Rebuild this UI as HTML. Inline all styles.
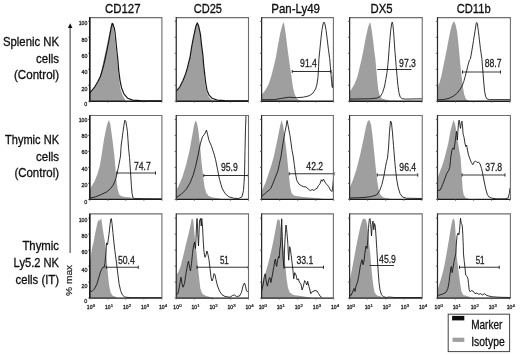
<!DOCTYPE html>
<html><head><meta charset="utf-8"><title>NK cell histograms</title>
<style>
html,body{margin:0;padding:0;background:#fff;}
body{width:520px;height:355px;overflow:hidden;}
svg{display:block;font-family:"Liberation Sans",sans-serif;}
</style></head><body>
<svg width="520" height="355" viewBox="0 0 520 355">
<rect width="520" height="355" fill="#fff"/>
<defs><filter id="bl" x="0" y="0" width="520" height="355" filterUnits="userSpaceOnUse"><feGaussianBlur stdDeviation="0.38"/></filter></defs>
<g filter="url(#bl)">
<g>
<clipPath id="c00"><rect x="89.75" y="17.6" width="72.15" height="83.65"/></clipPath>
<polygon clip-path="url(#c00)" fill="#9f9f9f" points="89.75,101.25 89.75,93.5 94,88.3 97.5,82.3 99.8,76.8 101.4,70.4 102.8,64 104.1,58 105.8,50 107.5,42 109.2,34 110.6,27.5 111.8,23.2 112.8,23.5 113.5,27 114.2,33 115.2,42 116.2,52 117.1,58 118,70 119.2,80 120.5,89 122.5,95 125.2,100 127,101.2 128.5,101.25"/>
<polyline clip-path="url(#c00)" fill="none" stroke="#161616" stroke-width="1.2" stroke-linejoin="round" stroke-linecap="round" points="89.75,92.9 94.2,87.7 97.9,81.5 100.4,76.6 102.25,70.4 103.9,64.2 105.3,58 107,50 108.6,42 110,34 111.2,27.5 112.2,23.4 113,24 113.6,26.5 114.2,27.5 115,32 116,42 117,52 117.7,58 118.7,70.4 120,80.3 121.5,87.7 123.9,93.9 127.7,98.3 132.6,100.1 140,100.7 161.9,100.9"/>
<path d="M89.75 17.6H161.9V101.25" fill="none" stroke="#6e6e6e" stroke-width="1.1"/>
<path d="M89.75 17.1V101.25" fill="none" stroke="#2a2a2a" stroke-width="1.25"/>
<path d="M89.75 101.25H161.9" stroke="#1c1c1c" stroke-width="1.4"/>
<path d="M88.15 101.25H89.75M88.15 85.25H89.75M88.15 69.25H89.75M88.15 53.25H89.75M88.15 37.25H89.75M88.15 21.25H89.75" stroke="#444" stroke-width="0.8"/>
<path d="M89.75 101.25V102.65M107.8 101.25V102.65M125.85 101.25V102.65M143.9 101.25V102.65M161.95 101.25V102.65" stroke="#555" stroke-width="0.8"/>
<path d="M89.75 17.6V101.25" stroke="#111" stroke-width="1.3"/>
<text x="87.35" y="106.2" font-size="6.1" stroke="#222" stroke-width="0.28" text-anchor="end" textLength="3.0" lengthAdjust="spacingAndGlyphs" fill="#1a1a1a">0</text>
<text x="87.35" y="90.6" font-size="6.1" stroke="#222" stroke-width="0.28" text-anchor="end" textLength="5.9" lengthAdjust="spacingAndGlyphs" fill="#1a1a1a">20</text>
<text x="87.35" y="73.95" font-size="6.1" stroke="#222" stroke-width="0.28" text-anchor="end" textLength="5.9" lengthAdjust="spacingAndGlyphs" fill="#1a1a1a">40</text>
<text x="87.35" y="58" font-size="6.1" stroke="#222" stroke-width="0.28" text-anchor="end" textLength="5.9" lengthAdjust="spacingAndGlyphs" fill="#1a1a1a">60</text>
<text x="87.35" y="41.8" font-size="6.1" stroke="#222" stroke-width="0.28" text-anchor="end" textLength="5.9" lengthAdjust="spacingAndGlyphs" fill="#1a1a1a">80</text>
<text x="87.35" y="24.9" font-size="6.1" stroke="#222" stroke-width="0.28" text-anchor="end" textLength="8.6" lengthAdjust="spacingAndGlyphs" fill="#1a1a1a">100</text>
</g>
<g>
<clipPath id="c01"><rect x="176.25" y="17.6" width="72.25" height="83.65"/></clipPath>
<polygon clip-path="url(#c01)" fill="#9f9f9f" points="176.25,101.25 176.25,91.8 180,87 183.1,81 185.6,74.6 187.5,68.2 189,62 190,58 191.8,46.5 193.7,36.6 196.1,25.6 197.3,23.2 198.4,25.6 200.2,34.1 201.4,45.3 202.6,55.2 203.4,65 204.2,74 205,83 206.2,90.5 208.2,96 211,99.3 215,100.8 218,101.2 219.5,101.25"/>
<polyline clip-path="url(#c01)" fill="none" stroke="#161616" stroke-width="1.2" stroke-linejoin="round" stroke-linecap="round" points="176.25,91.3 180,86.5 183.1,80.3 185.5,74.1 187.4,67.9 188.9,61.7 189.9,58 191.7,46.5 193.6,36.6 196.1,25.4 197.3,23 198.5,25.4 200.4,34.1 201.6,45.3 202.9,55.2 203.7,65.4 204.7,74.1 205.7,82.8 207,90.2 209.1,95.2 212.2,98.3 217.1,100.1 224.6,100.7 248.5,100.9"/>
<path d="M176.25 17.6H248.5V101.25" fill="none" stroke="#6e6e6e" stroke-width="1.1"/>
<path d="M176.25 17.1V101.25" fill="none" stroke="#2a2a2a" stroke-width="1.25"/>
<path d="M176.25 101.25H248.5" stroke="#1c1c1c" stroke-width="1.4"/>
<path d="M174.65 101.25H176.25M174.65 85.25H176.25M174.65 69.25H176.25M174.65 53.25H176.25M174.65 37.25H176.25M174.65 21.25H176.25" stroke="#444" stroke-width="0.8"/>
<path d="M176.25 101.25V102.65M194.3 101.25V102.65M212.35 101.25V102.65M230.4 101.25V102.65M248.45 101.25V102.65" stroke="#555" stroke-width="0.8"/>
</g>
<g>
<clipPath id="c02"><rect x="261.6" y="17.6" width="71.8" height="83.65"/></clipPath>
<polygon clip-path="url(#c02)" fill="#9f9f9f" points="261.6,101.25 261.6,94.5 262.2,94.1 265.1,90.5 268.7,84 271.5,75.3 273.7,66.7 275.6,58.7 278,44.9 280.2,33.3 282.4,24.7 283.5,22.1 284.5,26.1 286,36.2 287.4,47.7 288.9,58.7 290,66.7 291.5,76.8 292.9,86.9 294.6,94.1 296.8,98.4 299,100.1 303,101.4 304.5,101.25"/>
<polyline clip-path="url(#c02)" fill="none" stroke="#161616" stroke-width="0.88" stroke-linejoin="round" stroke-linecap="round" points="261.6,99.8 274.4,99.6 281.6,98.4 288.9,97.2 296.1,97.7 303.3,97.2 309.1,95.8 312.7,93.4 315.6,89 317,84 318,76.8 318.6,66.7 318.9,59 319.9,49.2 320.9,39.1 322,29.7 323.1,23.9 323.9,22.1 324.9,23.9 326.1,30.4 327.2,39.1 328.4,49.2 329.7,58.7 330.4,66.7 331.1,75.3 331.7,82.5 332.1,86.9 332.5,87.6 333,79.6 333.3,72.4"/>
<path d="M292.25 71.5H331M292.25 69.9V73.1M331 69.9V73.1" stroke="#111" stroke-width="0.85" fill="none"/>
<text x="308.5" y="66.5" font-size="10.3" stroke="#1c1c1c" stroke-width="0.26" text-anchor="middle" textLength="16.9" lengthAdjust="spacingAndGlyphs" fill="#1c1c1c">91.4</text>
<path d="M261.6 17.6H333.4V101.25" fill="none" stroke="#6e6e6e" stroke-width="1.1"/>
<path d="M261.6 17.1V101.25" fill="none" stroke="#2a2a2a" stroke-width="1.25"/>
<path d="M261.6 101.25H333.4" stroke="#1c1c1c" stroke-width="1.4"/>
<path d="M260 101.25H261.6M260 85.25H261.6M260 69.25H261.6M260 53.25H261.6M260 37.25H261.6M260 21.25H261.6" stroke="#444" stroke-width="0.8"/>
<path d="M261.6 101.25V102.65M279.65 101.25V102.65M297.7 101.25V102.65M315.75 101.25V102.65M333.8 101.25V102.65" stroke="#555" stroke-width="0.8"/>
</g>
<g>
<clipPath id="c03"><rect x="349.6" y="17.6" width="72.65" height="83.65"/></clipPath>
<polygon clip-path="url(#c03)" fill="#9f9f9f" points="349.6,101.25 349.6,92 351.6,89 354.5,84 357.4,76.8 359.5,68.1 361.7,58.7 363.9,47.7 366,36.2 368.2,26.8 369.6,22.9 370.1,22.3 370.8,24.7 372,31.9 373.3,42 374.4,52.1 375.4,59.3 376.3,69.5 377.3,81.1 378.3,89.8 379.7,95.5 381.9,98.4 385.5,99.6 392,101.4 393.5,101.25"/>
<polyline clip-path="url(#c03)" fill="none" stroke="#161616" stroke-width="0.88" stroke-linejoin="round" stroke-linecap="round" points="349.6,99.1 369.6,98.8 376.9,98.1 380.5,96.2 382.6,92.6 384.4,86.9 385.8,79.6 387,72.4 387.8,65.2 388.4,59 389.1,49.2 389.8,40.5 390.7,30.4 391.6,23.9 392.2,22.1 392.9,24.7 393.6,31.9 394.3,42 395,52.1 395.6,59 396.2,66.7 397.1,76.8 397.9,85.4 398.9,92.6 400.2,97 402.1,98.7 405.7,99.1 422.25,98.8"/>
<path d="M377.25 69.5H411.5" stroke="#111" stroke-width="0.85" fill="none"/>
<text x="407.5" y="66.75" font-size="10.3" stroke="#1c1c1c" stroke-width="0.26" text-anchor="middle" textLength="16.9" lengthAdjust="spacingAndGlyphs" fill="#1c1c1c">97.3</text>
<path d="M349.6 17.6H422.25V101.25" fill="none" stroke="#6e6e6e" stroke-width="1.1"/>
<path d="M349.6 17.1V101.25" fill="none" stroke="#2a2a2a" stroke-width="1.25"/>
<path d="M349.6 101.25H422.25" stroke="#1c1c1c" stroke-width="1.4"/>
<path d="M348 101.25H349.6M348 85.25H349.6M348 69.25H349.6M348 53.25H349.6M348 37.25H349.6M348 21.25H349.6" stroke="#444" stroke-width="0.8"/>
<path d="M349.6 101.25V102.65M367.65 101.25V102.65M385.7 101.25V102.65M403.75 101.25V102.65M421.8 101.25V102.65" stroke="#555" stroke-width="0.8"/>
</g>
<g>
<clipPath id="c04"><rect x="437.5" y="17.6" width="72.9" height="83.65"/></clipPath>
<polygon clip-path="url(#c04)" fill="#9f9f9f" points="437.5,101.25 437.5,87.2 439.6,82.5 441.5,75.3 443.2,66.7 444.9,58.7 446.8,49.2 448.7,39.1 450.4,30.4 452.2,23.9 453.6,21.5 454.8,22.5 455.9,26.1 457.1,31.9 457.9,39.1 458.8,47.7 459.8,58.7 460.8,69.5 462,79.6 463.1,88.3 464.1,94.1 465.6,98.4 467,99.8 470,101.4 471.5,101.25"/>
<polyline clip-path="url(#c04)" fill="none" stroke="#161616" stroke-width="0.88" stroke-linejoin="round" stroke-linecap="round" points="437.5,99.8 443.2,99.6 449,98.4 453.3,96.2 456.9,93.4 459.8,89.7 462,86.1 463.7,81.8 465.1,76.8 466.6,71 468,65.2 469.5,59.8 470.4,59 472,49.9 473.5,40.5 475,31.2 476.1,23.9 476.7,22.5 477.4,23.9 478.3,30.4 479.3,39.1 480.4,48.5 481.9,58.7 482.5,66.7 483.2,75.3 483.9,84 484.6,91.2 485.5,96.2 486.8,98.8 489.4,99.6 510.4,99.6"/>
<path d="M462.5 72H500.5M462.5 70.4V73.6M500.5 70.4V73.6" stroke="#111" stroke-width="0.85" fill="none"/>
<text x="493.12" y="66.75" font-size="10.3" stroke="#1c1c1c" stroke-width="0.26" text-anchor="middle" textLength="16.9" lengthAdjust="spacingAndGlyphs" fill="#1c1c1c">88.7</text>
<path d="M437.5 17.6H510.4V101.25" fill="none" stroke="#6e6e6e" stroke-width="1.1"/>
<path d="M437.5 17.1V101.25" fill="none" stroke="#2a2a2a" stroke-width="1.25"/>
<path d="M437.5 101.25H510.4" stroke="#1c1c1c" stroke-width="1.4"/>
<path d="M435.9 101.25H437.5M435.9 85.25H437.5M435.9 69.25H437.5M435.9 53.25H437.5M435.9 37.25H437.5M435.9 21.25H437.5" stroke="#444" stroke-width="0.8"/>
<path d="M437.5 101.25V102.65M455.55 101.25V102.65M473.6 101.25V102.65M491.65 101.25V102.65M509.7 101.25V102.65" stroke="#555" stroke-width="0.8"/>
</g>
<g>
<clipPath id="c10"><rect x="89.75" y="115.5" width="72.15" height="83.9"/></clipPath>
<polygon clip-path="url(#c10)" fill="#9f9f9f" points="89.75,199.4 89.75,190 91.1,187 94.2,182 97.3,174.6 99.8,165.9 101.3,157 104.1,138.8 106.6,126.4 108.4,120.8 109.1,120.2 110.3,123.9 111.5,132.6 112.8,142.5 114.3,154.9 115.5,168.4 116.5,180.8 117.7,189.5 119.2,194.4 121.5,196.3 125.2,196.9 135,198 145,199 146.5,199.4"/>
<polyline clip-path="url(#c10)" fill="none" stroke="#161616" stroke-width="0.88" stroke-linejoin="round" stroke-linecap="round" points="89.75,198.1 95.4,196.9 101.6,194.4 106.6,191.9 110.3,188.8 112.8,185.7 114.6,182 115.9,178.3 117.1,173.3 118.4,167.2 119.6,161 120.5,156 121.2,145 122.1,138.8 122.9,132.6 123.9,125.2 124.9,120.2 125.8,121.4 126.7,126.4 127.4,131.3 127.9,138.8 128.6,148.7 129.5,157.4 130.1,165.9 130.75,175.8 131.4,185.7 132,193.2 132.9,197.5 134.5,198.6 161.9,198.8"/>
<path d="M116.75 173H155.5M116.75 171.4V174.6M155.5 171.4V174.6" stroke="#111" stroke-width="0.85" fill="none"/>
<text x="142.38" y="170.25" font-size="10.3" stroke="#1c1c1c" stroke-width="0.26" text-anchor="middle" textLength="16.9" lengthAdjust="spacingAndGlyphs" fill="#1c1c1c">74.7</text>
<path d="M89.75 115.5H161.9V199.4" fill="none" stroke="#6e6e6e" stroke-width="1.1"/>
<path d="M89.75 115V199.4" fill="none" stroke="#2a2a2a" stroke-width="1.25"/>
<path d="M89.75 199.4H161.9" stroke="#1c1c1c" stroke-width="1.4"/>
<path d="M88.15 199.4H89.75M88.15 183.4H89.75M88.15 167.4H89.75M88.15 151.4H89.75M88.15 135.4H89.75M88.15 119.4H89.75" stroke="#444" stroke-width="0.8"/>
<path d="M89.75 199.4V200.8M107.8 199.4V200.8M125.85 199.4V200.8M143.9 199.4V200.8M161.95 199.4V200.8" stroke="#555" stroke-width="0.8"/>
<path d="M89.75 115.5V199.4" stroke="#111" stroke-width="1.3"/>
<text x="87.35" y="203.6" font-size="6.1" stroke="#222" stroke-width="0.28" text-anchor="end" textLength="3.0" lengthAdjust="spacingAndGlyphs" fill="#1a1a1a">0</text>
<text x="87.35" y="186.8" font-size="6.1" stroke="#222" stroke-width="0.28" text-anchor="end" textLength="5.9" lengthAdjust="spacingAndGlyphs" fill="#1a1a1a">20</text>
<text x="87.35" y="170.8" font-size="6.1" stroke="#222" stroke-width="0.28" text-anchor="end" textLength="5.9" lengthAdjust="spacingAndGlyphs" fill="#1a1a1a">40</text>
<text x="87.35" y="154.4" font-size="6.1" stroke="#222" stroke-width="0.28" text-anchor="end" textLength="5.9" lengthAdjust="spacingAndGlyphs" fill="#1a1a1a">60</text>
<text x="87.35" y="138.2" font-size="6.1" stroke="#222" stroke-width="0.28" text-anchor="end" textLength="5.9" lengthAdjust="spacingAndGlyphs" fill="#1a1a1a">80</text>
<text x="87.35" y="122.2" font-size="6.1" stroke="#222" stroke-width="0.28" text-anchor="end" textLength="8.6" lengthAdjust="spacingAndGlyphs" fill="#1a1a1a">100</text>
</g>
<g>
<clipPath id="c11"><rect x="176.25" y="115.5" width="72.25" height="83.9"/></clipPath>
<polygon clip-path="url(#c11)" fill="#9f9f9f" points="176.25,199.4 176.25,190.5 178.75,185.5 182.5,176.75 186.25,164.25 189.5,150.5 192,136.75 194,125.5 195.5,120.5 197,123 198.5,131.75 200,145.5 201.5,161.75 203,175.5 204.5,186.75 206.25,193 208.75,196 212.5,197.5 220,198.5 221.5,199.4"/>
<polyline clip-path="url(#c11)" fill="none" stroke="#161616" stroke-width="0.88" stroke-linejoin="round" stroke-linecap="round" points="176.25,197.5 181.25,194.25 186.25,189.25 190,183 193,175.5 195.5,166.75 198,155.5 200.5,143 202.5,136.75 204.5,134.25 206.5,130 207.5,134.25 209,140.5 211.25,145.5 213.75,153 215.5,159.25 217.5,169.25 219.5,179.25 222,188 225,193.5 228.75,196.75 233.75,198.25 238.75,198.5 242,196.75 243.5,190.5 244.5,175.5 245,150.5 245.5,128 246,116"/>
<path d="M203.75 175.5H248.25M203.75 173.9V177.1M248.25 173.9V177.1" stroke="#111" stroke-width="0.85" fill="none"/>
<text x="229.38" y="170.75" font-size="10.3" stroke="#1c1c1c" stroke-width="0.26" text-anchor="middle" textLength="16.9" lengthAdjust="spacingAndGlyphs" fill="#1c1c1c">95.9</text>
<path d="M176.25 115.5H248.5V199.4" fill="none" stroke="#6e6e6e" stroke-width="1.1"/>
<path d="M176.25 115V199.4" fill="none" stroke="#2a2a2a" stroke-width="1.25"/>
<path d="M176.25 199.4H248.5" stroke="#1c1c1c" stroke-width="1.4"/>
<path d="M174.65 199.4H176.25M174.65 183.4H176.25M174.65 167.4H176.25M174.65 151.4H176.25M174.65 135.4H176.25M174.65 119.4H176.25" stroke="#444" stroke-width="0.8"/>
<path d="M176.25 199.4V200.8M194.3 199.4V200.8M212.35 199.4V200.8M230.4 199.4V200.8M248.45 199.4V200.8" stroke="#555" stroke-width="0.8"/>
</g>
<g>
<clipPath id="c12"><rect x="261.6" y="115.5" width="71.8" height="83.9"/></clipPath>
<polygon clip-path="url(#c12)" fill="#9f9f9f" points="261.6,199.4 261.6,191.4 262.9,188.5 265.8,182 268.7,173.3 271.5,164.7 273.7,157 277.3,140 280.2,125.5 281.6,120.1 283.1,125.5 284.5,135.6 286,147.2 287.1,157 288.1,167.5 289.1,177.6 290.3,187.7 291.7,193.5 294.6,195.7 303.3,197.1 318,198.2 325,199.2 326.5,199.4"/>
<polyline clip-path="url(#c12)" fill="none" stroke="#161616" stroke-width="0.88" stroke-linejoin="round" stroke-linecap="round" points="261.6,196.4 264.3,194.2 266.5,192.1 269.4,189.9 270.8,188.5 272.3,184.9 274.4,179.8 276.6,174 278,170.4 279.5,163.2 280.9,157 282.4,147.2 283.8,138.5 284.8,132.8 286,127 287.1,120.5 288.1,125.5 288.9,129.9 290,135.6 291,142.9 292,150.1 293.3,157 294.3,164.7 295.4,173.3 296.8,180.5 299,184.1 301.1,185.6 303.3,186.6 306.2,187 308.3,189.2 310.5,190.6 312.2,189.5 314.1,190.6 315.6,188.9 317,188.5 318.4,185.6 319.9,184.1 321.3,179.8 322.3,181.3 323.5,179.1 324.9,182 326.4,184.1 328.5,186.3 330.7,190.6 332.2,191.4 332.9,184.9 333.3,180.5"/>
<path d="M289.25 173.75H334M289.25 172.15V175.35M334 172.15V175.35" stroke="#111" stroke-width="0.85" fill="none"/>
<text x="314.75" y="169.75" font-size="10.3" stroke="#1c1c1c" stroke-width="0.26" text-anchor="middle" textLength="16.9" lengthAdjust="spacingAndGlyphs" fill="#1c1c1c">42.2</text>
<path d="M261.6 115.5H333.4V199.4" fill="none" stroke="#6e6e6e" stroke-width="1.1"/>
<path d="M261.6 115V199.4" fill="none" stroke="#2a2a2a" stroke-width="1.25"/>
<path d="M261.6 199.4H333.4" stroke="#1c1c1c" stroke-width="1.4"/>
<path d="M260 199.4H261.6M260 183.4H261.6M260 167.4H261.6M260 151.4H261.6M260 135.4H261.6M260 119.4H261.6" stroke="#444" stroke-width="0.8"/>
<path d="M261.6 199.4V200.8M279.65 199.4V200.8M297.7 199.4V200.8M315.75 199.4V200.8M333.8 199.4V200.8" stroke="#555" stroke-width="0.8"/>
</g>
<g>
<clipPath id="c13"><rect x="349.6" y="115.5" width="72.65" height="83.9"/></clipPath>
<polygon clip-path="url(#c13)" fill="#9f9f9f" points="349.6,199.4 349.6,188 352.75,180.5 356.5,169.25 360.25,154.25 363.5,139.25 366,126.75 367.75,121 369.25,120 371,124.25 372.5,135.5 374,150.5 375.5,165.5 377,179.25 378.5,189.25 380.5,195 383.5,197.5 389,198.5 390.5,199.4"/>
<polyline clip-path="url(#c13)" fill="none" stroke="#161616" stroke-width="0.88" stroke-linejoin="round" stroke-linecap="round" points="349.6,198 364,197.5 371.5,196.5 376.5,195 379.5,191 382,184.25 384,175.5 385.5,166.75 386.5,161.75 387.5,158 388.5,148 389.5,131.75 390.5,121 391.5,123 392.5,133 393.5,145.5 394.5,158 395.5,169.25 396.5,178 398,186.75 400,193.5 402.5,197 406.5,198.25 422,198.5"/>
<path d="M377.25 175H417.75M377.25 173.4V176.6M417.75 173.4V176.6" stroke="#111" stroke-width="0.85" fill="none"/>
<text x="407.75" y="170.88" font-size="10.3" stroke="#1c1c1c" stroke-width="0.26" text-anchor="middle" textLength="16.9" lengthAdjust="spacingAndGlyphs" fill="#1c1c1c">96.4</text>
<path d="M349.6 115.5H422.25V199.4" fill="none" stroke="#6e6e6e" stroke-width="1.1"/>
<path d="M349.6 115V199.4" fill="none" stroke="#2a2a2a" stroke-width="1.25"/>
<path d="M349.6 199.4H422.25" stroke="#1c1c1c" stroke-width="1.4"/>
<path d="M348 199.4H349.6M348 183.4H349.6M348 167.4H349.6M348 151.4H349.6M348 135.4H349.6M348 119.4H349.6" stroke="#444" stroke-width="0.8"/>
<path d="M349.6 199.4V200.8M367.65 199.4V200.8M385.7 199.4V200.8M403.75 199.4V200.8M421.8 199.4V200.8" stroke="#555" stroke-width="0.8"/>
</g>
<g>
<clipPath id="c14"><rect x="437.5" y="115.5" width="72.9" height="83.9"/></clipPath>
<polygon clip-path="url(#c14)" fill="#9f9f9f" points="437.5,199.4 437.5,176.5 438.2,176.2 440.3,170.4 442.5,164.7 444.7,157.4 448.3,142.9 450.4,131.3 452.6,122.7 453.7,120.1 455,124.1 456.2,129.9 457.6,140 459.1,150.1 460.5,157 461.3,167.5 462,179.1 462.7,189.2 463.7,195 465.6,197.8 470,199.2 471.5,199.4"/>
<polyline clip-path="url(#c14)" fill="none" stroke="#161616" stroke-width="0.88" stroke-linejoin="round" stroke-linecap="round" points="437.5,190.8 440.3,189.9 442.5,184.9 444.7,179.1 446.8,173.3 448.7,170.4 449.7,167.5 450.4,161.8 450.8,157 451.9,150.1 453,147.9 454,149.4 455,142.9 455.9,135.6 456.5,131.3 457.1,135.6 457.4,140 457.9,131.3 458.5,122.7 459.1,120.1 459.8,124.1 460.5,128.4 461.3,122.7 462,121.2 462.6,127 463.1,134.2 464,137.1 464.9,142.9 465.7,146.5 466.6,145 467.5,150.1 468.5,155 469.9,158.9 471.4,162.5 472.8,164.7 474.2,161.8 475.7,161.1 477.1,162.5 478.5,162 480,163.9 481.5,168.3 482.9,174.8 484.3,182 485.8,189.2 487.2,194.2 488.7,196.7 491.6,198.1 496.6,198.9 505.3,198.9 508.2,197.8 509.3,193.5 509.9,188.5"/>
<path d="M462 175H505M462 173.4V176.6M505 173.4V176.6" stroke="#111" stroke-width="0.85" fill="none"/>
<text x="493.75" y="170.88" font-size="10.3" stroke="#1c1c1c" stroke-width="0.26" text-anchor="middle" textLength="16.9" lengthAdjust="spacingAndGlyphs" fill="#1c1c1c">37.8</text>
<path d="M437.5 115.5H510.4V199.4" fill="none" stroke="#6e6e6e" stroke-width="1.1"/>
<path d="M437.5 115V199.4" fill="none" stroke="#2a2a2a" stroke-width="1.25"/>
<path d="M437.5 199.4H510.4" stroke="#1c1c1c" stroke-width="1.4"/>
<path d="M435.9 199.4H437.5M435.9 183.4H437.5M435.9 167.4H437.5M435.9 151.4H437.5M435.9 135.4H437.5M435.9 119.4H437.5" stroke="#444" stroke-width="0.8"/>
<path d="M437.5 199.4V200.8M455.55 199.4V200.8M473.6 199.4V200.8M491.65 199.4V200.8M509.7 199.4V200.8" stroke="#555" stroke-width="0.8"/>
</g>
<g>
<clipPath id="c20"><rect x="89.75" y="213.9" width="72.15" height="84.2"/></clipPath>
<polygon clip-path="url(#c20)" fill="#9f9f9f" points="89.75,298.1 89.75,262 90.7,256.9 91.9,248.4 93.5,242.25 95.4,232.25 97.25,223.5 98.5,219.75 99.6,221 101.25,217.9 102,223.5 102.9,229.75 104.1,237.25 105.4,244.75 106.2,252 107,262 108,275 109.2,286 110.6,292.5 112.5,295.5 116,297 117.5,298.1"/>
<polyline clip-path="url(#c20)" fill="none" stroke="#161616" stroke-width="0.88" stroke-linejoin="round" stroke-linecap="round" points="89.75,290.7 91.9,291.5 94.4,289 97,283.9 98.7,278 100.4,272.1 102,268.7 103.2,267 104.1,267.5 104.9,263.6 105.9,253.5 106.3,247.25 106.6,242.9 107.5,244.75 108.25,239.75 109.1,233.5 110,224.75 110.75,219.1 111.4,218.6 112,223.5 112.9,232.25 113.75,241 114.75,249.75 115.4,254.75 116.4,262 117.8,273.8 119.1,283.9 120.6,290.7 122.3,294.9 124.9,297.1 130,297.6 161.9,297.7"/>
<path d="M106.25 267.25H138.25M106.25 265.65V268.85M138.25 265.65V268.85" stroke="#111" stroke-width="0.85" fill="none"/>
<text x="126.38" y="263.88" font-size="10.3" stroke="#1c1c1c" stroke-width="0.26" text-anchor="middle" textLength="16.9" lengthAdjust="spacingAndGlyphs" fill="#1c1c1c">50.4</text>
<path d="M89.75 213.9H161.9V298.1" fill="none" stroke="#6e6e6e" stroke-width="1.1"/>
<path d="M89.75 213.4V298.1" fill="none" stroke="#2a2a2a" stroke-width="1.25"/>
<path d="M89.75 298.1H161.9" stroke="#1c1c1c" stroke-width="1.4"/>
<path d="M88.15 298.1H89.75M88.15 282.1H89.75M88.15 266.1H89.75M88.15 250.1H89.75M88.15 234.1H89.75M88.15 218.1H89.75" stroke="#444" stroke-width="0.8"/>
<path d="M89.75 298.1V299.5M107.8 298.1V299.5M125.85 298.1V299.5M143.9 298.1V299.5M161.95 298.1V299.5" stroke="#555" stroke-width="0.8"/>
<path d="M89.75 213.9V298.1" stroke="#111" stroke-width="1.3"/>
<text x="87.35" y="303" font-size="6.1" stroke="#222" stroke-width="0.28" text-anchor="end" textLength="3.0" lengthAdjust="spacingAndGlyphs" fill="#1a1a1a">0</text>
<text x="87.35" y="287.6" font-size="6.1" stroke="#222" stroke-width="0.28" text-anchor="end" textLength="5.9" lengthAdjust="spacingAndGlyphs" fill="#1a1a1a">20</text>
<text x="87.35" y="271.9" font-size="6.1" stroke="#222" stroke-width="0.28" text-anchor="end" textLength="5.9" lengthAdjust="spacingAndGlyphs" fill="#1a1a1a">40</text>
<text x="87.35" y="254.1" font-size="6.1" stroke="#222" stroke-width="0.28" text-anchor="end" textLength="5.9" lengthAdjust="spacingAndGlyphs" fill="#1a1a1a">60</text>
<text x="87.35" y="238" font-size="6.1" stroke="#222" stroke-width="0.28" text-anchor="end" textLength="5.9" lengthAdjust="spacingAndGlyphs" fill="#1a1a1a">80</text>
<text x="87.35" y="221.8" font-size="6.1" stroke="#222" stroke-width="0.28" text-anchor="end" textLength="8.6" lengthAdjust="spacingAndGlyphs" fill="#1a1a1a">100</text>
<text x="86.85" y="309" font-size="6.0" stroke="#222" stroke-width="0.32" textLength="5.6" lengthAdjust="spacingAndGlyphs" fill="#1a1a1a">10</text>
<text x="92.65" y="306.5" font-size="4.1" stroke="#222" stroke-width="0.22" textLength="2.4" lengthAdjust="spacingAndGlyphs" fill="#1a1a1a">0</text>
<text x="104.9" y="309" font-size="6.0" stroke="#222" stroke-width="0.32" textLength="5.6" lengthAdjust="spacingAndGlyphs" fill="#1a1a1a">10</text>
<text x="110.7" y="306.5" font-size="4.1" stroke="#222" stroke-width="0.22" textLength="2.4" lengthAdjust="spacingAndGlyphs" fill="#1a1a1a">1</text>
<text x="122.95" y="309" font-size="6.0" stroke="#222" stroke-width="0.32" textLength="5.6" lengthAdjust="spacingAndGlyphs" fill="#1a1a1a">10</text>
<text x="128.75" y="306.5" font-size="4.1" stroke="#222" stroke-width="0.22" textLength="2.4" lengthAdjust="spacingAndGlyphs" fill="#1a1a1a">2</text>
<text x="141" y="309" font-size="6.0" stroke="#222" stroke-width="0.32" textLength="5.6" lengthAdjust="spacingAndGlyphs" fill="#1a1a1a">10</text>
<text x="146.8" y="306.5" font-size="4.1" stroke="#222" stroke-width="0.22" textLength="2.4" lengthAdjust="spacingAndGlyphs" fill="#1a1a1a">3</text>
<text x="159.05" y="309" font-size="6.0" stroke="#222" stroke-width="0.32" textLength="5.6" lengthAdjust="spacingAndGlyphs" fill="#1a1a1a">10</text>
<text x="164.85" y="306.5" font-size="4.1" stroke="#222" stroke-width="0.22" textLength="2.4" lengthAdjust="spacingAndGlyphs" fill="#1a1a1a">4</text>
</g>
<g>
<clipPath id="c21"><rect x="176.25" y="213.9" width="72.25" height="84.2"/></clipPath>
<polygon clip-path="url(#c21)" fill="#9f9f9f" points="176.25,298.1 176.25,275 178.1,272.6 180.6,266.4 183.7,254 186,244 188.5,234 190.5,225 191.7,218.5 192.3,220 192.8,218 193.5,222 194.3,232 195.5,244 196.7,254 197.9,266.4 199.2,278.8 200.4,288.7 202.3,293.7 206,296.1 212,297.5 213.5,298.1"/>
<polyline clip-path="url(#c21)" fill="none" stroke="#161616" stroke-width="0.88" stroke-linejoin="round" stroke-linecap="round" points="176.25,294.75 178,293.5 179.5,286 181,277.25 182,283.5 183,287.25 184.5,283.5 186,273.5 187.5,264.75 188.5,261 189.5,267.25 190.5,271 191.5,263.5 192.5,253.5 193.5,246 194.5,242.25 195.5,248.5 196,238.5 196.5,226 197,218.5 197.5,226 198,238.5 198.5,246 199,233.5 199.5,221 200.5,218.5 201.25,226 201.75,218.5 202.5,226 203.25,241 204,252.25 205,257.25 206,254.75 207,251 208,254.75 209,259.75 210,268.5 211,277.25 212,281 213,278.5 214,273.5 215,274.75 216,279.75 217.5,286 219.5,291 222,294.75 225,296.5 230,297.25 232.5,295.5 234.5,295 236.5,296.5 239.5,296 241.5,292.25 243,286 244.5,283 245.5,286 246.5,291 247.5,291.5"/>
<path d="M197 267.25H248.25M197 265.65V268.85M248.25 265.65V268.85" stroke="#111" stroke-width="0.85" fill="none"/>
<text x="224.38" y="264.12" font-size="10.3" stroke="#1c1c1c" stroke-width="0.26" text-anchor="middle" textLength="8.9" lengthAdjust="spacingAndGlyphs" fill="#1c1c1c">51</text>
<path d="M176.25 213.9H248.5V298.1" fill="none" stroke="#6e6e6e" stroke-width="1.1"/>
<path d="M176.25 213.4V298.1" fill="none" stroke="#2a2a2a" stroke-width="1.25"/>
<path d="M176.25 298.1H248.5" stroke="#1c1c1c" stroke-width="1.4"/>
<path d="M174.65 298.1H176.25M174.65 282.1H176.25M174.65 266.1H176.25M174.65 250.1H176.25M174.65 234.1H176.25M174.65 218.1H176.25" stroke="#444" stroke-width="0.8"/>
<path d="M176.25 298.1V299.5M194.3 298.1V299.5M212.35 298.1V299.5M230.4 298.1V299.5M248.45 298.1V299.5" stroke="#555" stroke-width="0.8"/>
<text x="173.35" y="309" font-size="6.0" stroke="#222" stroke-width="0.32" textLength="5.6" lengthAdjust="spacingAndGlyphs" fill="#1a1a1a">10</text>
<text x="179.15" y="306.5" font-size="4.1" stroke="#222" stroke-width="0.22" textLength="2.4" lengthAdjust="spacingAndGlyphs" fill="#1a1a1a">0</text>
<text x="191.4" y="309" font-size="6.0" stroke="#222" stroke-width="0.32" textLength="5.6" lengthAdjust="spacingAndGlyphs" fill="#1a1a1a">10</text>
<text x="197.2" y="306.5" font-size="4.1" stroke="#222" stroke-width="0.22" textLength="2.4" lengthAdjust="spacingAndGlyphs" fill="#1a1a1a">1</text>
<text x="209.45" y="309" font-size="6.0" stroke="#222" stroke-width="0.32" textLength="5.6" lengthAdjust="spacingAndGlyphs" fill="#1a1a1a">10</text>
<text x="215.25" y="306.5" font-size="4.1" stroke="#222" stroke-width="0.22" textLength="2.4" lengthAdjust="spacingAndGlyphs" fill="#1a1a1a">2</text>
<text x="227.5" y="309" font-size="6.0" stroke="#222" stroke-width="0.32" textLength="5.6" lengthAdjust="spacingAndGlyphs" fill="#1a1a1a">10</text>
<text x="233.3" y="306.5" font-size="4.1" stroke="#222" stroke-width="0.22" textLength="2.4" lengthAdjust="spacingAndGlyphs" fill="#1a1a1a">3</text>
<text x="245.55" y="309" font-size="6.0" stroke="#222" stroke-width="0.32" textLength="5.6" lengthAdjust="spacingAndGlyphs" fill="#1a1a1a">10</text>
<text x="251.35" y="306.5" font-size="4.1" stroke="#222" stroke-width="0.22" textLength="2.4" lengthAdjust="spacingAndGlyphs" fill="#1a1a1a">4</text>
</g>
<g>
<clipPath id="c22"><rect x="261.6" y="213.9" width="71.8" height="84.2"/></clipPath>
<polygon clip-path="url(#c22)" fill="#9f9f9f" points="261.6,298.1 261.6,286 263.1,280 265.6,272.6 268.05,263.9 270.5,254 272.5,245 274.3,236 275.8,228 277,221.5 277.6,219.2 278.3,220 279,219 279.8,221 280.8,228 282,238 283.2,247 284.2,254 285.4,266.4 286.6,278.8 287.9,287.5 289.7,292.4 293.5,294.9 300.9,296.1 310,297.4 311.5,298.1"/>
<polyline clip-path="url(#c22)" fill="none" stroke="#161616" stroke-width="0.88" stroke-linejoin="round" stroke-linecap="round" points="261.6,291.2 263.1,285 264.3,276.3 265.2,273.8 266.2,281.3 267.4,286.2 268.7,280 269.9,277.5 270.9,282.5 272.4,275 273.9,266.4 274.9,260.2 275.5,259 276.1,265 276.7,266.4 277.6,260.2 278.6,256.5 279.2,258 279.8,249.2 280.4,246 281.1,236.8 281.7,218.8 282.3,236.8 282.9,255.4 283.8,266.4 284.3,256 284.8,243 285.4,233.1 286,225 286.6,229.3 287.3,236.8 287.9,244.2 288.25,252.9 288.7,260.2 289.1,254 289.5,248 289.7,246.7 290.4,249.2 291.2,255.4 292.2,263.9 293.2,272.6 293.7,278.8 294.7,272.6 296,275 297.2,280 298.4,278.8 299.4,282.5 300.9,283.7 302.1,290 303.4,286.2 304.6,280.6 305.8,282.5 306.8,285 307.7,281.3 308.9,286.2 310.8,293.7 311.5,292.25 313,291.5 315,290.5 317,291 318.5,293.5 320,296 321.5,297.3"/>
<path d="M284 267.25H323.5M284 265.65V268.85M323.5 265.65V268.85" stroke="#111" stroke-width="0.85" fill="none"/>
<text x="304.88" y="263.88" font-size="10.3" stroke="#1c1c1c" stroke-width="0.26" text-anchor="middle" textLength="16.9" lengthAdjust="spacingAndGlyphs" fill="#1c1c1c">33.1</text>
<path d="M261.6 213.9H333.4V298.1" fill="none" stroke="#6e6e6e" stroke-width="1.1"/>
<path d="M261.6 213.4V298.1" fill="none" stroke="#2a2a2a" stroke-width="1.25"/>
<path d="M261.6 298.1H333.4" stroke="#1c1c1c" stroke-width="1.4"/>
<path d="M260 298.1H261.6M260 282.1H261.6M260 266.1H261.6M260 250.1H261.6M260 234.1H261.6M260 218.1H261.6" stroke="#444" stroke-width="0.8"/>
<path d="M261.6 298.1V299.5M279.65 298.1V299.5M297.7 298.1V299.5M315.75 298.1V299.5M333.8 298.1V299.5" stroke="#555" stroke-width="0.8"/>
<text x="258.7" y="309" font-size="6.0" stroke="#222" stroke-width="0.32" textLength="5.6" lengthAdjust="spacingAndGlyphs" fill="#1a1a1a">10</text>
<text x="264.5" y="306.5" font-size="4.1" stroke="#222" stroke-width="0.22" textLength="2.4" lengthAdjust="spacingAndGlyphs" fill="#1a1a1a">0</text>
<text x="276.75" y="309" font-size="6.0" stroke="#222" stroke-width="0.32" textLength="5.6" lengthAdjust="spacingAndGlyphs" fill="#1a1a1a">10</text>
<text x="282.55" y="306.5" font-size="4.1" stroke="#222" stroke-width="0.22" textLength="2.4" lengthAdjust="spacingAndGlyphs" fill="#1a1a1a">1</text>
<text x="294.8" y="309" font-size="6.0" stroke="#222" stroke-width="0.32" textLength="5.6" lengthAdjust="spacingAndGlyphs" fill="#1a1a1a">10</text>
<text x="300.6" y="306.5" font-size="4.1" stroke="#222" stroke-width="0.22" textLength="2.4" lengthAdjust="spacingAndGlyphs" fill="#1a1a1a">2</text>
<text x="312.85" y="309" font-size="6.0" stroke="#222" stroke-width="0.32" textLength="5.6" lengthAdjust="spacingAndGlyphs" fill="#1a1a1a">10</text>
<text x="318.65" y="306.5" font-size="4.1" stroke="#222" stroke-width="0.22" textLength="2.4" lengthAdjust="spacingAndGlyphs" fill="#1a1a1a">3</text>
<text x="330.9" y="309" font-size="6.0" stroke="#222" stroke-width="0.32" textLength="5.6" lengthAdjust="spacingAndGlyphs" fill="#1a1a1a">10</text>
<text x="336.7" y="306.5" font-size="4.1" stroke="#222" stroke-width="0.22" textLength="2.4" lengthAdjust="spacingAndGlyphs" fill="#1a1a1a">4</text>
</g>
<g>
<clipPath id="c23"><rect x="349.6" y="213.9" width="72.65" height="84.2"/></clipPath>
<polygon clip-path="url(#c23)" fill="#9f9f9f" points="349.6,298.1 349.6,281.5 351.1,273.8 353,263.9 354.8,254 356.5,245 358.5,235 360.5,226 362.2,220.5 363.3,218.3 364.2,219.5 365,218.5 366,220 367,224 368,232 369.2,244 370.3,254 371.3,266.4 372.2,276.3 373.4,286.2 374.6,292.4 377.1,295.5 381.5,296.8 386,297.8 387.5,298.1"/>
<polyline clip-path="url(#c23)" fill="none" stroke="#161616" stroke-width="0.88" stroke-linejoin="round" stroke-linecap="round" points="349.6,294.75 351,295.5 352.5,292.25 354,288.5 355,291.5 356,286 357.5,282.25 359,274.75 360.5,264.75 362,259.75 363,264.75 364,261 365,252.25 366,246 367,248.5 367.75,241 368.5,228.5 369.25,219.75 370,218.5 370.75,224.75 371.5,236 372.25,224.75 373,221 373.75,229.75 374.5,223.5 375.25,226 376,236 376.75,248.5 377.5,261 378.25,272.25 379,282.25 380,289.75 381.5,294.75 383.5,296.75 386.5,297.5 389,297 394,297.5 422,297.5"/>
<path d="M369.75 265.5H394" stroke="#111" stroke-width="0.85" fill="none"/>
<text x="387.5" y="263.25" font-size="10.3" stroke="#1c1c1c" stroke-width="0.26" text-anchor="middle" textLength="16.9" lengthAdjust="spacingAndGlyphs" fill="#1c1c1c">45.9</text>
<path d="M349.6 213.9H422.25V298.1" fill="none" stroke="#6e6e6e" stroke-width="1.1"/>
<path d="M349.6 213.4V298.1" fill="none" stroke="#2a2a2a" stroke-width="1.25"/>
<path d="M349.6 298.1H422.25" stroke="#1c1c1c" stroke-width="1.4"/>
<path d="M348 298.1H349.6M348 282.1H349.6M348 266.1H349.6M348 250.1H349.6M348 234.1H349.6M348 218.1H349.6" stroke="#444" stroke-width="0.8"/>
<path d="M349.6 298.1V299.5M367.65 298.1V299.5M385.7 298.1V299.5M403.75 298.1V299.5M421.8 298.1V299.5" stroke="#555" stroke-width="0.8"/>
<text x="346.7" y="309" font-size="6.0" stroke="#222" stroke-width="0.32" textLength="5.6" lengthAdjust="spacingAndGlyphs" fill="#1a1a1a">10</text>
<text x="352.5" y="306.5" font-size="4.1" stroke="#222" stroke-width="0.22" textLength="2.4" lengthAdjust="spacingAndGlyphs" fill="#1a1a1a">0</text>
<text x="364.75" y="309" font-size="6.0" stroke="#222" stroke-width="0.32" textLength="5.6" lengthAdjust="spacingAndGlyphs" fill="#1a1a1a">10</text>
<text x="370.55" y="306.5" font-size="4.1" stroke="#222" stroke-width="0.22" textLength="2.4" lengthAdjust="spacingAndGlyphs" fill="#1a1a1a">1</text>
<text x="382.8" y="309" font-size="6.0" stroke="#222" stroke-width="0.32" textLength="5.6" lengthAdjust="spacingAndGlyphs" fill="#1a1a1a">10</text>
<text x="388.6" y="306.5" font-size="4.1" stroke="#222" stroke-width="0.22" textLength="2.4" lengthAdjust="spacingAndGlyphs" fill="#1a1a1a">2</text>
<text x="400.85" y="309" font-size="6.0" stroke="#222" stroke-width="0.32" textLength="5.6" lengthAdjust="spacingAndGlyphs" fill="#1a1a1a">10</text>
<text x="406.65" y="306.5" font-size="4.1" stroke="#222" stroke-width="0.22" textLength="2.4" lengthAdjust="spacingAndGlyphs" fill="#1a1a1a">3</text>
<text x="418.9" y="309" font-size="6.0" stroke="#222" stroke-width="0.32" textLength="5.6" lengthAdjust="spacingAndGlyphs" fill="#1a1a1a">10</text>
<text x="424.7" y="306.5" font-size="4.1" stroke="#222" stroke-width="0.22" textLength="2.4" lengthAdjust="spacingAndGlyphs" fill="#1a1a1a">4</text>
</g>
<g>
<clipPath id="c24"><rect x="437.5" y="213.9" width="72.9" height="84.2"/></clipPath>
<polygon clip-path="url(#c24)" fill="#9f9f9f" points="437.5,298.1 437.5,290 439.1,285 441,278.8 442.8,272.6 444.7,263.9 446.5,254 448,245 449.5,236 451,227 452.3,220.5 453.2,218.4 454,219 454.8,222 455.5,232 456,244 456.4,254 457.7,263.9 458.9,273.8 460.2,283.7 461.4,291.2 463.3,294.9 467,296.1 472,297.8 473.5,298.1"/>
<polyline clip-path="url(#c24)" fill="none" stroke="#161616" stroke-width="0.88" stroke-linejoin="round" stroke-linecap="round" points="437.5,295.5 442.2,294.3 445.9,292.4 447.8,288.7 449,282.5 449.9,275.1 450.9,267.6 451.5,266.4 452.1,272.6 453.1,267.6 454,261.4 455.2,256.5 455.8,254 456.4,243 457.1,235.5 458.1,233.1 458.9,234.9 459.5,230.6 460.2,221.9 460.5,218.2 461.2,223.2 461.8,224.4 462.3,226 462.8,234.3 463.3,246.7 463.5,254 464.25,261.4 465.1,268.9 465.7,275.1 467,276.3 468,278.8 468.5,283.7 469.2,289.9 470.1,291.8 471.3,290.6 473.2,291.2 475,293.7 476.9,293.1 478.8,294.3 480.6,293.7 482.5,294.9 484.3,293.7 486.8,295.5 492,296.8 500,297.3 510.4,297.5"/>
<path d="M459.5 267.25H499.25M459.5 265.65V268.85M499.25 265.65V268.85" stroke="#111" stroke-width="0.85" fill="none"/>
<text x="480.12" y="263.88" font-size="10.3" stroke="#1c1c1c" stroke-width="0.26" text-anchor="middle" textLength="8.9" lengthAdjust="spacingAndGlyphs" fill="#1c1c1c">51</text>
<path d="M437.5 213.9H510.4V298.1" fill="none" stroke="#6e6e6e" stroke-width="1.1"/>
<path d="M437.5 213.4V298.1" fill="none" stroke="#2a2a2a" stroke-width="1.25"/>
<path d="M437.5 298.1H510.4" stroke="#1c1c1c" stroke-width="1.4"/>
<path d="M435.9 298.1H437.5M435.9 282.1H437.5M435.9 266.1H437.5M435.9 250.1H437.5M435.9 234.1H437.5M435.9 218.1H437.5" stroke="#444" stroke-width="0.8"/>
<path d="M437.5 298.1V299.5M455.55 298.1V299.5M473.6 298.1V299.5M491.65 298.1V299.5M509.7 298.1V299.5" stroke="#555" stroke-width="0.8"/>
<text x="434.6" y="309" font-size="6.0" stroke="#222" stroke-width="0.32" textLength="5.6" lengthAdjust="spacingAndGlyphs" fill="#1a1a1a">10</text>
<text x="440.4" y="306.5" font-size="4.1" stroke="#222" stroke-width="0.22" textLength="2.4" lengthAdjust="spacingAndGlyphs" fill="#1a1a1a">0</text>
<text x="452.65" y="309" font-size="6.0" stroke="#222" stroke-width="0.32" textLength="5.6" lengthAdjust="spacingAndGlyphs" fill="#1a1a1a">10</text>
<text x="458.45" y="306.5" font-size="4.1" stroke="#222" stroke-width="0.22" textLength="2.4" lengthAdjust="spacingAndGlyphs" fill="#1a1a1a">1</text>
<text x="470.7" y="309" font-size="6.0" stroke="#222" stroke-width="0.32" textLength="5.6" lengthAdjust="spacingAndGlyphs" fill="#1a1a1a">10</text>
<text x="476.5" y="306.5" font-size="4.1" stroke="#222" stroke-width="0.22" textLength="2.4" lengthAdjust="spacingAndGlyphs" fill="#1a1a1a">2</text>
<text x="488.75" y="309" font-size="6.0" stroke="#222" stroke-width="0.32" textLength="5.6" lengthAdjust="spacingAndGlyphs" fill="#1a1a1a">10</text>
<text x="494.55" y="306.5" font-size="4.1" stroke="#222" stroke-width="0.22" textLength="2.4" lengthAdjust="spacingAndGlyphs" fill="#1a1a1a">3</text>
<text x="506.8" y="309" font-size="6.0" stroke="#222" stroke-width="0.32" textLength="5.6" lengthAdjust="spacingAndGlyphs" fill="#1a1a1a">10</text>
<text x="512.6" y="306.5" font-size="4.1" stroke="#222" stroke-width="0.22" textLength="2.4" lengthAdjust="spacingAndGlyphs" fill="#1a1a1a">4</text>
</g>
<text x="105" y="13.3" font-size="13.6" stroke="#111" stroke-width="0.34" textLength="35.5" lengthAdjust="spacingAndGlyphs" fill="#111">CD127</text>
<text x="193.75" y="13.3" font-size="13.6" stroke="#111" stroke-width="0.34" textLength="28.25" lengthAdjust="spacingAndGlyphs" fill="#111">CD25</text>
<text x="271.25" y="13.3" font-size="13.6" stroke="#111" stroke-width="0.34" textLength="48.75" lengthAdjust="spacingAndGlyphs" fill="#111">Pan-Ly49</text>
<text x="370.5" y="13.3" font-size="13.6" stroke="#111" stroke-width="0.34" textLength="22" lengthAdjust="spacingAndGlyphs" fill="#111">DX5</text>
<text x="456.8" y="13.3" font-size="13.6" stroke="#111" stroke-width="0.34" textLength="33.8" lengthAdjust="spacingAndGlyphs" fill="#111">CD11b</text>
<text x="3" y="46" font-size="12.9" stroke="#111" stroke-width="0.32" textLength="56" lengthAdjust="spacingAndGlyphs" fill="#111">Splenic NK</text>
<text x="36" y="62.6" font-size="12.9" stroke="#111" stroke-width="0.32" textLength="23" lengthAdjust="spacingAndGlyphs" fill="#111">cells</text>
<text x="14" y="79.4" font-size="12.9" stroke="#111" stroke-width="0.32" textLength="45" lengthAdjust="spacingAndGlyphs" fill="#111">(Control)</text>
<text x="5" y="143.6" font-size="12.9" stroke="#111" stroke-width="0.32" textLength="54" lengthAdjust="spacingAndGlyphs" fill="#111">Thymic NK</text>
<text x="36" y="160.6" font-size="12.9" stroke="#111" stroke-width="0.32" textLength="23" lengthAdjust="spacingAndGlyphs" fill="#111">cells</text>
<text x="14.4" y="177.4" font-size="12.9" stroke="#111" stroke-width="0.32" textLength="44.6" lengthAdjust="spacingAndGlyphs" fill="#111">(Control)</text>
<text x="22.4" y="250" font-size="12.9" stroke="#111" stroke-width="0.32" textLength="36.6" lengthAdjust="spacingAndGlyphs" fill="#111">Thymic</text>
<text x="13.6" y="267.4" font-size="12.9" stroke="#111" stroke-width="0.32" textLength="45.4" lengthAdjust="spacingAndGlyphs" fill="#111">Ly5.2 NK</text>
<text x="15.6" y="284.4" font-size="12.9" stroke="#111" stroke-width="0.32" textLength="43.4" lengthAdjust="spacingAndGlyphs" fill="#111">cells (IT)</text>
<path d="M70.15 27.5V252.9" stroke="#777" stroke-width="1.5" fill="none"/>
<path d="M70.15 23.2L72.4 27.9H67.9Z" fill="#111"/>
<text transform="translate(72.3 295.9) rotate(-90)" font-size="9.4" stroke="#222" stroke-width="0.2" textLength="31" lengthAdjust="spacingAndGlyphs" fill="#222">% max</text>
<rect x="448.2" y="314.2" width="61.4" height="37.4" fill="#fff" stroke="#444" stroke-width="1"/>
<rect x="452.1" y="315.9" width="12.2" height="4.5" fill="#0a0a0a"/>
<rect x="452.5" y="337.7" width="11.8" height="4.2" fill="#9f9f9f"/>
<text x="471.2" y="329.4" font-size="12.9" stroke="#111" stroke-width="0.32" textLength="31.1" lengthAdjust="spacingAndGlyphs" fill="#111">Marker</text>
<text x="471.2" y="345.8" font-size="12.9" stroke="#111" stroke-width="0.32" textLength="33.5" lengthAdjust="spacingAndGlyphs" fill="#111">Isotype</text>
</g>
</svg>
</body></html>
